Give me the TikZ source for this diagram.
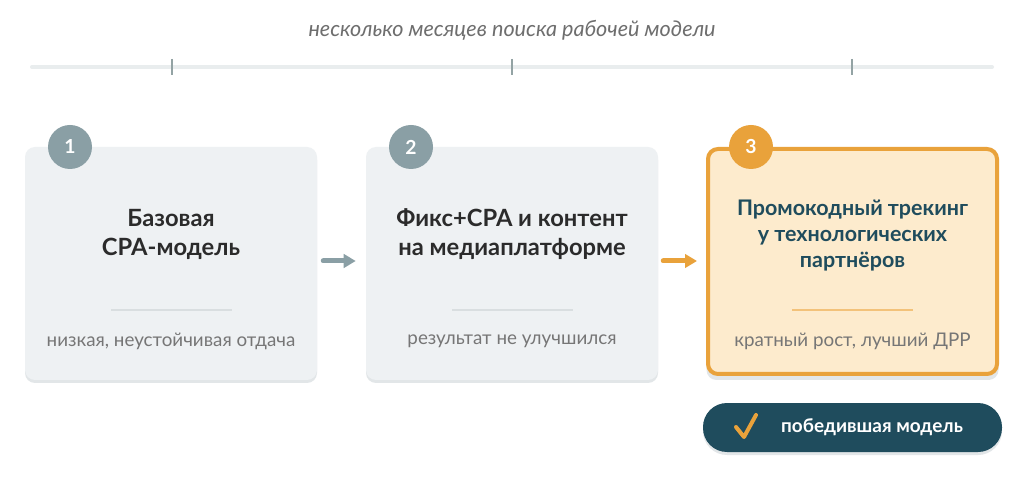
\documentclass[tikz,border=0pt]{standalone}
\usepackage{fontspec}
\setmainfont{Lato}
\usetikzlibrary{arrows.meta}
\definecolor{boxgray}{HTML}{EEF1F3}
\definecolor{shadowgray}{HTML}{E2E6E8}
\definecolor{circgray}{HTML}{8A9FA5}
\definecolor{orng}{HTML}{E9A23B}
\definecolor{boxorange}{HTML}{FDEBCD}
\definecolor{darkteal}{HTML}{1F4C5D}
\definecolor{darktext}{HTML}{2B2B2B}
\definecolor{subgray}{HTML}{767676}
\definecolor{sepgray}{HTML}{D9DEE0}
\definecolor{seporange}{HTML}{F3C27A}
\definecolor{linegray}{HTML}{E9EDEE}
\definecolor{tickgray}{HTML}{93A3A4}
\definecolor{titlegray}{HTML}{6E6E6E}
\tikzset{
  stepbox/.style={rectangle, rounded corners=7.5pt, minimum width=292*0.75pt, minimum height=233*0.75pt, inner sep=0pt},
  shadowbox/.style={rectangle, rounded corners=7.5pt, fill=shadowgray, minimum width=292*0.75pt, minimum height=233*0.75pt, inner sep=0pt},
  numcirc/.style={circle, minimum size=44*0.75pt, inner sep=0pt, text=white, font=\bfseries\fontsize{14.5}{16}\selectfont},
  boxtitle/.style={align=center, font=\bfseries\fontsize{17.8}{21.8}\selectfont, text=darktext},
  boxsub/.style={font=\fontsize{14.1}{16}\selectfont, text=subgray},
  sepline/.style={line width=2*0.75pt},
  arr/.style={line width=5*0.75pt, line cap=round, -{Triangle[length=9pt,width=10pt]}},
}
\begin{document}
\begin{tikzpicture}[x=0.75pt,y=-0.75pt]
\useasboundingbox (0,0) rectangle (1024,491);
\fill[white] (0,0) rectangle (1024,491);
% title and timeline
\node[font=\itshape\fontsize{16.2}{18}\selectfont, text=titlegray] (ttl) at (512,30) {несколько месяцев поиска рабочей модели};
\coordinate (tlA) at (32,67);
\coordinate (tlB) at (992,67);
\draw[linegray, line width=4*0.75pt, line cap=round] (tlA) -- (tlB);
\foreach \x/\n in {172/k1,512/k2,852/k3}{
  \coordinate (\n a) at (\x,59);
  \coordinate (\n b) at (\x,75);
  \draw[tickgray, line width=2.2*0.75pt] (\n a) -- (\n b);
}
% shadows
\node[shadowbox] (s1) at (171,266.5) {};
\node[shadowbox] (s2) at (512,266.5) {};
\node[shadowbox, minimum height=229*0.75pt] (s3) at (852.5,265.5) {};
% boxes
\node[stepbox, fill=boxgray] (b1) at (171,263.5) {};
\node[stepbox, fill=boxgray] (b2) at (512,263.5) {};
\node[stepbox, fill=boxorange, draw=orng, line width=4*0.75pt, minimum width=289*0.75pt, minimum height=225*0.75pt] (b3) at (852.5,261.5) {};
% circles
\node[numcirc, fill=circgray] (c1) at (70,147) {1};
\node[numcirc, fill=circgray] (c2) at (411,147) {2};
\node[numcirc, fill=orng] (c3) at (751,147) {3};
% titles
\node[boxtitle] (t1) at (171,234) {Базовая\\CPA-модель};
\node[boxtitle] (t2) at (512,234) {Фикс+CPA и контент\\на медиаплатформе};
\node[boxtitle, text=darkteal, font=\bfseries\fontsize{16.1}{19.2}\selectfont] (t3) at (852.5,235.5) {Промокодный трекинг\\у технологических\\партнёров};
% separators
\draw[sepline, sepgray] (111,310) -- (232,310);
\draw[sepline, sepgray] (452,310) -- (573,310);
\draw[sepline, seporange] (792,310) -- (913,310);
% subtitles
\node[boxsub] (u1) at (171,341) {низкая, неустойчивая отдача};
\node[boxsub] (u2) at (512,341) {результат не улучшился};
\node[boxsub] (u3) at (852.5,341) {кратный рост, лучший ДРР};
% arrows
\draw[arr, circgray] ([shift={(6,-2.5)}]b1.east) -- ([shift={(-10,-2.5)}]b2.west);
\draw[arr, orng] ([shift={(5,-2.5)}]b2.east) -- ([shift={(-9,-0.5)}]b3.west);
% winner button
\node[rectangle, rounded corners=18pt, fill=shadowgray, minimum width=299*0.75pt, minimum height=49*0.75pt] (bs) at (852.5,430.5) {};
\node[rectangle, rounded corners=18pt, fill=darkteal, minimum width=299*0.75pt, minimum height=49*0.75pt] (btn) at (852.5,427.5) {};
\node[font=\bfseries\fontsize{14.2}{16}\selectfont, text=white] (btxt) at (872,427) {победившая модель};
\coordinate (ck1) at (736,427);
\coordinate (ck2) at (744,437);
\coordinate (ck3) at (756,415);
\draw[orng, line width=4*0.75pt, line cap=round, line join=round] (ck1) -- (ck2) -- (ck3);
\end{tikzpicture}
\end{document}
